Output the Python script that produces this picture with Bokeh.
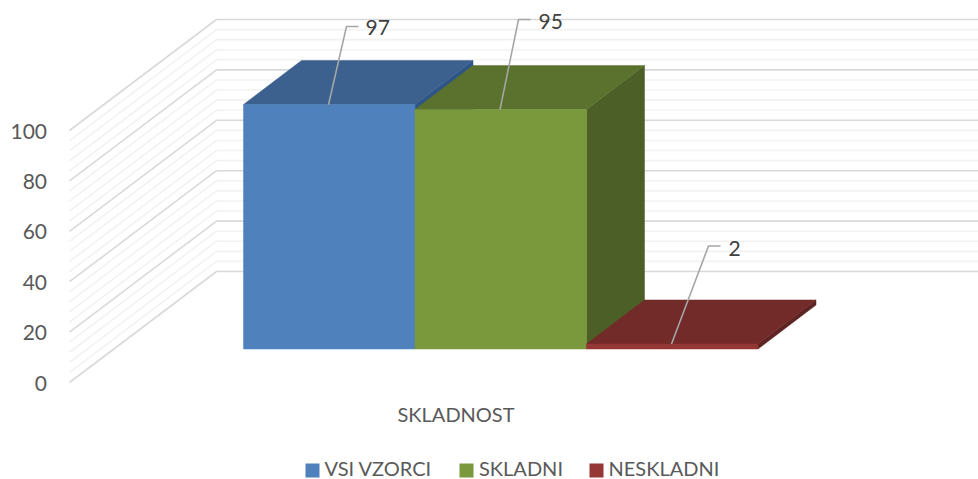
from bokeh.plotting import figure
from bokeh.embed import file_html
from bokeh.resources import INLINE
from bokeh.core.properties import value as fv

series = ["VSI VZORCI", "SKLADNI", "NESKLADNI"]
values = [97, 95, 2]
category = "SKLADNOST"
ticks = [0, 20, 40, 60, 80, 100]
minor_step = 4

front = ["#4f81bd", "#7a983c", "#953735"]
top = ["#3c618f", "#5a722e", "#722b29"]
side = ["#2f5488", "#4c5f27", "#5e2422"]
FONT = "Lato"
GREY = "#595959"

# scale: one category = 171.5 px, one value unit = 2.52 px
PXX, PXY = 171.5, 2.52
X0, Y0 = 243.0, 348.5
W, H = 978, 479
OX, OY = 0, 0
def X(px): return (px - X0) / PXX
def Y(py): return (Y0 - py) / PXY

p = figure(width=W, height=H, output_backend="svg", toolbar_location=None,
           x_range=(X(OX), X(OX + W)), y_range=(Y(OY + H), Y(OY)),
           min_border=0, min_border_left=0, min_border_right=0,
           min_border_top=0, min_border_bottom=0)
p.axis.visible = False
p.grid.visible = False
p.outline_line_color = None
p.background_fill_color = "#ffffff"

# walls
wall_front_x, wall_back_x, wall_end_x = X(69), X(216), X(978)
floor_front = Y(382)
depth_y = 111 / PXY
for step_vals, color, lw in [
    ([v for v in range(0, 101, minor_step) if v % 20], "#f2f2f2", 1.6),
    (ticks, "#d9d9d9", 1.6),
]:
    xs = [[wall_front_x, wall_back_x, wall_end_x] for _ in step_vals]
    ys = [[floor_front + v, floor_front + v + depth_y, floor_front + v + depth_y] for v in step_vals]
    p.multi_line(xs, ys, line_color=color, line_width=lw)

# bars
dx, dy = 58 / PXX, 44 / PXY
for i, v in enumerate(values):
    p.patch([i + 1, i + 1 + dx, i + 1 + dx, i + 1], [0, dy, v + dy, v], fill_color=side[i], line_color=side[i], line_width=0.5)
    p.patch([i, i + dx, i + 1 + dx, i + 1], [v, v + dy, v + dy, v], fill_color=top[i], line_color=top[i], line_width=0.5)
    p.quad(left=i, right=i + 1, bottom=0, top=v, fill_color=front[i], line_color=front[i], line_width=0.5)

# data labels with leader lines
anchor_px = [(346, 26), (518, 19), (708, 245.5)]
foot_px = [328, 499.5, 671]
label_px = [(365, 27), (538, 21), (728, 248)]
for i, v in enumerate(values):
    ax, ay = anchor_px[i]
    p.line([X(foot_px[i]), X(ax), X(ax + 12)], [v, Y(ay), Y(ay)], line_color="#a6a6a6", line_width=1.6)
    p.text([X(label_px[i][0])], [Y(label_px[i][1])], text=[str(v)], text_font=fv(FONT),
           text_font_size="21px", text_color="#404040", text_baseline="middle", text_align="left")

# value axis labels
label_shift = 0.5 / PXY
p.text([X(46.5)] * len(ticks), [floor_front + t - label_shift for t in ticks], text=[str(t) for t in ticks],
       text_font=fv(FONT), text_font_size="21px", text_color=GREY,
       text_align="right", text_baseline="middle")

# category label
p.text([X(455.5)], [Y(413)], text=[category], text_font=fv(FONT), text_font_size="20px",
       text_color=GREY, text_align="center", text_baseline="middle")

# legend
swatch_px = [305, 459, 589]
text_px = [324, 478.5, 608]
for i, name in enumerate(series):
    p.quad(left=X(swatch_px[i]), right=X(swatch_px[i] + 14), bottom=Y(477), top=Y(463),
           fill_color=front[i], line_color=None)
    p.text([X(text_px[i])], [Y(467.5)], text=[name], text_font=fv(FONT), text_font_size="20px",
           text_color=GREY, text_align="left", text_baseline="middle")

open("out.html", "w").write(file_html(p, INLINE))
